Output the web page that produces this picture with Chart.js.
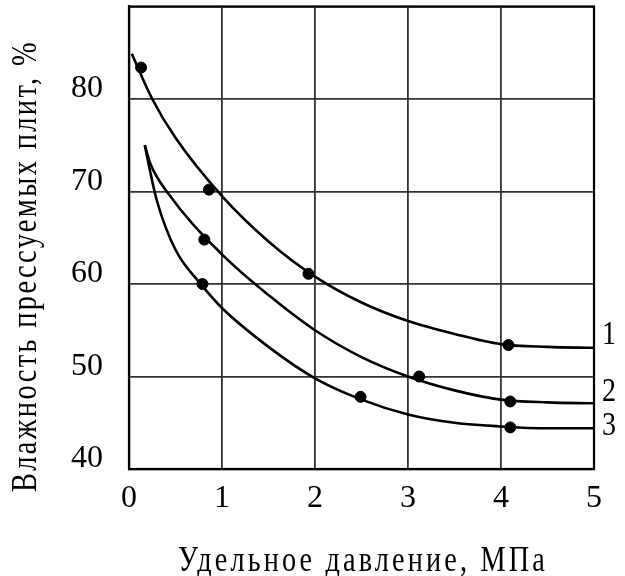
<!DOCTYPE html>
<html>
<head>
<meta charset="utf-8">
<script src="https://cdn.jsdelivr.net/npm/chart.js@4/dist/chart.umd.min.js"></script>
<style>
  html, body { margin:0; padding:0; background:#fff; }
  #wrap { width:625px; height:576px; }
</style>
</head>
<body>
<div id="wrap"><canvas id="chart"></canvas></div>
<script>
// fitted curves
const curve1X = [0.03, 0.25, 0.5, 1, 1.5, 2, 2.5, 3, 3.5, 4, 4.5, 5];
const curve1Y = [84.9, 80.0, 75.8, 69.5, 64.6, 60.8, 58.0, 56.0, 54.6, 53.5, 53.2, 53.1];
const curve2X = [0.17, 0.23, 0.42, 1, 1.5, 2, 2.5, 3, 3.5, 4, 4.5, 5];
const curve2Y = [75.0, 73.0, 69.8, 63.2, 58.8, 55.0, 52.1, 50.0, 48.5, 47.5, 47.2, 47.1];
const curve3X = [0.17, 0.2, 0.3, 0.5, 0.78, 1, 1.5, 2, 2.5, 3, 3.5, 4, 4.5, 5];
const curve3Y = [75.0, 73.5, 69.0, 63.7, 59.9, 57.4, 53.2, 49.8, 47.5, 45.9, 45.0, 44.6, 44.4, 44.4];

// measured points
const pts1X = [0.13, 0.86, 1.93, 4.08];
const pts1Y = [83.4, 70.2, 61.1, 53.4];
const pts2X = [0.81, 3.12, 4.1];
const pts2Y = [64.8, 50.0, 47.3];
const pts3X = [0.79, 2.49, 4.1];
const pts3Y = [60.0, 47.8, 44.5];

const curveNames = ["1", "2", "3"];
const xTicks = [0, 1, 2, 3, 4, 5];
const yTicks = [40, 50, 60, 70, 80];
const xTitle = "Удельное давление, МПа";
const yTitle = "Влажность прессуемых плит, %";

function toXY(xs, ys) {
    return xs.map(function(x, i){ return {x:x, y:ys[i]}; });
}

function curveSet(xs, ys) {
    return {
        type:"line",
        data:toXY(xs, ys),
        borderColor:"#000",
        borderWidth:2.6,
        pointRadius:0,
        cubicInterpolationMode:"monotone",
        fill:false
    };
}

function pointSet(xs, ys) {
    return {
        type:"scatter",
        data:toXY(xs, ys),
        backgroundColor:"#000",
        borderColor:"#000",
        pointRadius:5.5,
        pointHoverRadius:5.5
    };
}

const serif = "'Liberation Serif', 'DejaVu Serif', serif";

// draws text squeezed horizontally (the original font is narrow)
function narrowText(ctx, text, cx, cy, width, angle) {
    ctx.save();
    ctx.translate(cx, cy);
    ctx.rotate(angle);
    let w = ctx.measureText(text).width;
    ctx.scale(width / w, 1);
    ctx.fillText(text, 0, 0);
    ctx.restore();
}

// frame, axis titles and curve numbers
const textPlugin = {
    id:"texts",
    afterDraw(chart) {
        const ctx = chart.ctx;
        const a = chart.chartArea;
        const xs = chart.scales.x, ys = chart.scales.y;
        const ends = [curve1Y[curve1Y.length-1], curve2Y[curve2Y.length-1], curve3Y[curve3Y.length-1]];
        const lift = [12, 11, 2];
        ctx.save();
        ctx.strokeStyle = "#000";
        ctx.lineWidth = 2.2;
        ctx.strokeRect(a.left, a.top, a.right - a.left, a.bottom - a.top);

        ctx.fillStyle = "#000";
        ctx.font = "33px " + serif;
        ctx.textBaseline = "middle";
        ctx.textAlign = "left";
        curveNames.forEach(function(n, i){
            let w = ctx.measureText(n).width * 0.85;
            narrowText(ctx, n, xs.getPixelForValue(5) + 8, ys.getPixelForValue(ends[i]) - lift[i], w, 0);
        });

        ctx.font = "36px " + serif;
        ctx.textAlign = "center";
        ctx.textBaseline = "alphabetic";
        ctx.letterSpacing = "4px";
        narrowText(ctx, xTitle, 363, 571, 370, 0);
        ctx.letterSpacing = "3px";
        narrowText(ctx, yTitle, 36, 266, 452, -Math.PI/2);
        ctx.restore();
    }
};

new Chart(document.getElementById("chart"), {
    data:{
        datasets:[
            curveSet(curve1X, curve1Y),
            curveSet(curve2X, curve2Y),
            curveSet(curve3X, curve3Y),
            pointSet(pts1X, pts1Y),
            pointSet(pts2X, pts2Y),
            pointSet(pts3X, pts3Y)
        ]
    },
    options:{
        responsive:true,
        maintainAspectRatio:false,
        animation:false,
        layout:{ padding:{ left:0, right:31, top:5, bottom:0 } },
        plugins:{ legend:{display:false}, tooltip:{enabled:false} },
        scales:{
            x:{
                type:"linear",
                min:0, max:5,
                afterBuildTicks(s){ s.ticks = xTicks.map(function(v){ return {value:v}; }); },
                afterFit(s){ s.height = 107; s.paddingLeft = 0; s.paddingRight = 0; },
                grid:{ color:"#333", lineWidth:1.8, drawTicks:false },
                border:{ color:"#000", width:2.2 },
                ticks:{ color:"#000", padding:10, font:{ family:serif, size:32 } }
            },
            y:{
                type:"linear",
                min:40, max:90,
                afterBuildTicks(s){ s.ticks = yTicks.concat([90]).map(function(v){ return {value:v}; }); },
                afterFit(s){ s.width = 129; s.paddingTop = 0; s.paddingBottom = 0; },
                grid:{ color:"#333", lineWidth:1.8, drawTicks:false },
                border:{ color:"#000", width:2.2 },
                ticks:{
                    color:"#000", padding:26, labelOffset:-10, font:{ family:serif, size:32 },
                    callback:function(v){ return v === 90 ? "" : v; }
                }
            }
        }
    },
    plugins:[textPlugin]
});
</script>
</body>
</html>
